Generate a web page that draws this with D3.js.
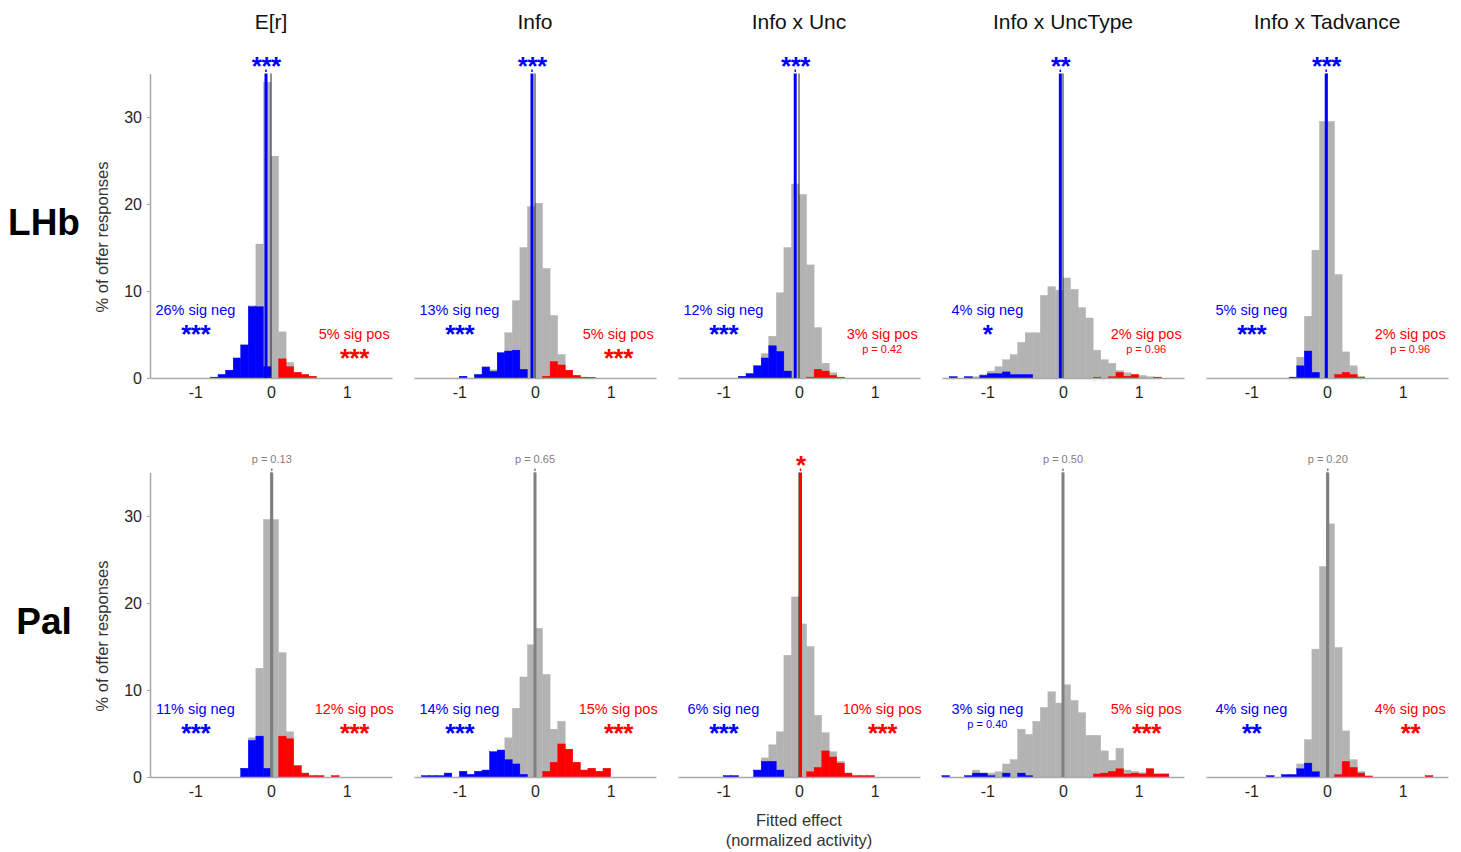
<!DOCTYPE html>
<html><head><meta charset="utf-8">
<script src="https://cdn.jsdelivr.net/npm/d3@7"></script>
<style>body{margin:0;background:#fff;} svg{display:block;font-family:"Liberation Sans",Arial,sans-serif;}</style>
</head><body><svg id="chart" width="1461" height="852"></svg>
<script>
// ---------- data ----------
const binLefts = [-1.6,-1.5,-1.4,-1.3,-1.2,-1.1,-1.0,-0.9, -0.8,-0.7,-0.6,-0.5,-0.4,-0.3,-0.2,-0.1,
                  0.0,0.1,0.2,0.3,0.4,0.5,0.6,0.7, 0.8,0.9,1.0,1.1,1.2,1.3,1.4,1.5];
const binWidth = 0.1;
const columnTitles = ["E[r]", "Info", "Info x Unc", "Info x UncType", "Info x Tadvance"];
const rowLabels = ["LHb", "Pal"];
const xTicks = [-1, 0, 1];
const yTicks = [0, 10, 20, 30];

// LHb
const lhbErAll  = [0,0,0,0,0,0,0,0, 0.1,0.4,0.9,2.3,3.8,8.3,15.4,34.0, 25.5,5.3,1.8,0.65,0.4,0.2,0,0, 0,0,0,0,0,0,0,0];
const lhbErNeg  = [0,0,0,0,0,0,0,0, 0.1,0.4,0.9,2.3,3.8,8.2,8.2,1.3, 0,0,0,0,0,0,0,0, 0,0,0,0,0,0,0,0];
const lhbErPos  = [0,0,0,0,0,0,0,0, 0,0,0,0,0,0,0,0, 0,2.2,1.3,0.65,0.4,0.2,0,0, 0,0,0,0,0,0,0,0];

const lhbInfoAll = [0,0,0,0,0,0,0.2,0, 0.4,1.3,0.95,2.9,5.2,8.9,15.0,19.7, 20.1,12.6,7.2,2.7,0.9,0.3,0.1,0.08, 0,0,0,0,0,0,0,0];
const lhbInfoNeg = [0,0,0,0,0,0,0.2,0, 0.4,1.26,0.76,2.9,3.1,3.2,1.0,0, 0,0,0,0,0,0,0,0, 0,0,0,0,0,0,0,0];
const lhbInfoPos = [0,0,0,0,0,0,0,0, 0,0,0,0,0,0,0,0, 0,0.2,1.9,1.5,0.9,0.3,0.1,0.08, 0,0,0,0,0,0,0,0];

const lhbUncAll = [0,0,0,0,0,0,0,0, 0.2,0.5,1.4,2.8,4.8,9.8,15.0,22.3, 21.1,13.0,5.8,1.7,0.6,0.1,0,0, 0,0,0,0,0,0,0,0];
const lhbUncNeg = [0,0,0,0,0,0,0,0, 0.2,0.5,1.4,2.3,3.7,3.05,0.8,0, 0,0,0,0,0,0,0,0, 0,0,0,0,0,0,0,0];
const lhbUncPos = [0,0,0,0,0,0,0,0, 0,0,0,0,0,0,0,0, 0,0.1,1.0,0.8,0.3,0.1,0,0, 0,0,0,0,0,0,0,0];

const lhbUncTypeAll = [0,0.15,0,0.15,0.15,0.4,0.8,1.3, 2.1,2.7,4.1,5.2,5.2,9.5,10.5,10.1, 11.5,10.2,8.1,6.9,3.2,2.1,1.7,0.85, 0.6,0.4,0.3,0.15,0.1,0,0,0];
const lhbUncTypeNeg = [0,0.15,0,0.15,0,0.3,0.5,0.5, 0.7,0.4,0.4,0.4,0,0,0,0, 0,0,0,0,0,0,0,0, 0,0,0,0,0,0,0,0];
const lhbUncTypePos = [0,0,0,0,0,0,0,0, 0,0,0,0,0,0,0,0, 0,0,0,0,0.1,0,0.15,0.65, 0.2,0.4,0,0,0.1,0,0,0];

const lhbTadvAll = [0,0,0,0,0,0,0,0, 0,0,0,0.1,2.4,7.1,14.7,29.5, 29.5,11.9,3.0,1.4,0.2,0,0,0, 0,0,0,0,0,0,0,0];
const lhbTadvNeg = [0,0,0,0,0,0,0,0, 0,0,0,0.1,1.4,3.1,0.65,0, 0,0,0,0,0,0,0,0, 0,0,0,0,0,0,0,0];
const lhbTadvPos = [0,0,0,0,0,0,0,0, 0,0,0,0,0,0,0,0, 0,0.4,0.65,0.4,0.08,0,0,0, 0,0,0,0,0,0,0,0];

// Pal
const palErAll = [0,0,0,0,0,0,0,0, 0,0,0,0,1.0,4.5,12.5,29.6, 29.6,14.3,5.2,1.3,0.45,0.15,0.15,0, 0.15,0,0,0,0,0,0,0];
const palErNeg = [0,0,0,0,0,0,0,0, 0,0,0,0,1.0,4.2,4.7,1.0, 0,0,0,0,0,0,0,0, 0,0,0,0,0,0,0,0];
const palErPos = [0,0,0,0,0,0,0,0, 0,0,0,0,0,0,0,0, 0,4.7,4.4,1.3,0.45,0.15,0.15,0, 0.15,0,0,0,0,0,0,0];

const palInfoAll = [0,0.15,0.15,0.15,0.45,0,0.65,0.3, 0.65,0.8,2.9,3.1,4.5,7.9,11.5,15.2, 17.1,11.8,5.5,6.4,3.2,1.7,0.8,1.0, 0.65,1.0,0,0,0,0,0,0];
const palInfoNeg = [0,0.15,0.15,0.15,0.45,0,0.65,0.3, 0.65,0.8,2.9,3.1,2.0,1.5,0.3,0, 0,0,0,0,0,0,0,0, 0,0,0,0,0,0,0,0];
const palInfoPos = [0,0,0,0,0,0,0,0, 0,0,0,0,0,0,0,0, 0,0.65,1.7,3.8,3.2,1.7,0.8,1.0, 0.65,1.0,0,0,0,0,0,0];

const palUncAll = [0,0,0,0,0,0,0.15,0.15, 0,0,0.8,2.2,3.7,5.2,14.0,20.7, 17.6,15.0,7.1,5.1,2.9,1.8,0.45,0.15, 0.15,0.15,0,0,0,0,0,0];
const palUncNeg = [0,0,0,0,0,0,0.15,0.15, 0,0,0.8,1.8,1.8,0.8,0,0, 0,0,0,0,0,0,0,0, 0,0,0,0,0,0,0,0];
const palUncPos = [0,0,0,0,0,0,0,0, 0,0,0,0,0,0,0,0, 0,0.6,1.1,3.0,2.3,1.6,0.45,0.15, 0.15,0.15,0,0,0,0,0,0];

const palUncTypeAll = [0.15,0,0,0.15,0.8,0.45,0.45,0.6, 1.5,2.0,5.5,4.9,6.4,8.0,9.8,8.5, 10.6,8.8,7.4,4.8,4.8,3.0,1.9,3.3, 0.8,0.65,0.5,0.95,0.35,0.35,0,0];
const palUncTypeNeg = [0.15,0,0,0.15,0.45,0.45,0.15,0, 0.45,0,0.45,0.15,0,0,0,0, 0,0,0,0,0,0,0,0, 0,0,0,0,0,0,0,0];
const palUncTypePos = [0,0,0,0,0,0,0,0, 0,0,0,0,0,0,0,0, 0,0,0,0,0.35,0.45,0.65,0.95, 0.35,0.45,0.35,0.95,0.35,0.35,0,0];

const palTadvAll = [0,0,0,0,0,0,0,0, 0.15,0,0.27,0.27,1.5,4.3,14.7,24.2, 29.1,14.9,5.3,2.0,0.65,0.15,0,0, 0,0,0,0,0,0.15,0,0];
const palTadvNeg = [0,0,0,0,0,0,0,0, 0.15,0,0.27,0.27,0.95,1.6,0.6,0, 0,0,0,0,0,0,0,0, 0,0,0,0,0,0,0,0];
const palTadvPos = [0,0,0,0,0,0,0,0, 0,0,0,0,0,0,0,0, 0,0.27,1.8,1.1,0.45,0.1,0,0, 0,0,0,0,0,0.15,0,0];

// per-panel annotations (row-major: LHb columns, then Pal columns)
const panelMedians   = [-0.066, -0.04, -0.05, -0.035, -0.01, 0.01, 0.0, 0.02, 0.0, 0.01];
const medianSig      = ["neg","neg","neg","neg","neg","ns","ns","pos","ns","ns"];
const medianStats    = ["***","***","***","**","***","p = 0.13","p = 0.65","*","p = 0.50","p = 0.20"];
const negLabels      = ["26% sig neg","13% sig neg","12% sig neg","4% sig neg","5% sig neg","11% sig neg","14% sig neg","6% sig neg","3% sig neg","4% sig neg"];
const negStats       = ["***","***","***","*","***","***","***","***","p = 0.40","**"];
const posLabels      = ["5% sig pos","5% sig pos","3% sig pos","2% sig pos","2% sig pos","12% sig pos","15% sig pos","10% sig pos","5% sig pos","4% sig pos"];
const posStats       = ["***","***","p = 0.42","p = 0.96","p = 0.96","***","***","***","***","**"];

const allSeries = [lhbErAll, lhbInfoAll, lhbUncAll, lhbUncTypeAll, lhbTadvAll, palErAll, palInfoAll, palUncAll, palUncTypeAll, palTadvAll];
const negSeries = [lhbErNeg, lhbInfoNeg, lhbUncNeg, lhbUncTypeNeg, lhbTadvNeg, palErNeg, palInfoNeg, palUncNeg, palUncTypeNeg, palTadvNeg];
const posSeries = [lhbErPos, lhbInfoPos, lhbUncPos, lhbUncTypePos, lhbTadvPos, palErPos, palInfoPos, palUncPos, palUncTypePos, palTadvPos];

// ---------- drawing ----------
const COLORS = {gray: "#b3b3b3", neg: "#0000ff", pos: "#ff0000", ns: "#808080"};
const svg = d3.select("#chart");
const panelW = 242, panelH = 304.5;
const colLeft = c => 150 + c * 264;
const rowBase = [378, 777];
const xDomain = [-1.6, 1.6];
const yDomain = [0, 35];

columnTitles.forEach((t, c) => {
  svg.append("text").attr("x", colLeft(c) + panelW / 2).attr("y", 29)
    .attr("text-anchor", "middle").attr("font-size", 21).attr("fill", "#111").text(t);
});
rowLabels.forEach((t, r) => {
  svg.append("text").attr("x", 44).attr("y", rowBase[r] - 143)
    .attr("text-anchor", "middle").attr("font-size", 37).attr("font-weight", "bold")
    .attr("fill", "#000").text(t);
  svg.append("text")
    .attr("transform", `translate(108,${rowBase[r] - 141}) rotate(-90)`)
    .attr("text-anchor", "middle").attr("font-size", 16.5).attr("fill", "#333")
    .text("% of offer responses");
});
svg.append("text").attr("x", 799).attr("y", 826).attr("text-anchor", "middle")
  .attr("font-size", 16.5).attr("fill", "#333").text("Fitted effect");
svg.append("text").attr("x", 799).attr("y", 846).attr("text-anchor", "middle")
  .attr("font-size", 16.5).attr("fill", "#333").text("(normalized activity)");

function statText(g, x, yCenter, txt, color) {
  if (txt.startsWith("p")) {
    g.append("text").attr("x", x).attr("y", yCenter + 4)
      .attr("text-anchor", "middle").attr("font-size", 11).attr("fill", color).text(txt);
  } else {
    const fs = 26;
    g.append("text").attr("x", x + 0.25).attr("y", yCenter + 0.6 * fs)
      .attr("text-anchor", "middle").attr("font-size", fs).attr("font-weight", "bold")
      .attr("letter-spacing", "-0.5px").attr("fill", color).text(txt);
  }
}

for (let r = 0; r < 2; r++) {
  for (let c = 0; c < 5; c++) {
    const i = r * 5 + c;
    const left = colLeft(c), base = rowBase[r];
    const x = d3.scaleLinear().domain(xDomain).range([left, left + panelW]);
    const y = d3.scaleLinear().domain(yDomain).range([base, base - panelH]);
    const g = svg.append("g");

    const bars = (vals, color) => {
      g.append("g").selectAll("rect")
        .data(binLefts.map((b, k) => ({b, v: vals[k]})).filter(d => d.v > 0))
        .join("rect")
        .attr("x", d => x(d.b))
        .attr("width", d => x(d.b + binWidth) - x(d.b))
        .attr("y", d => y(d.v))
        .attr("height", d => y(0) - y(d.v))
        .attr("fill", color).attr("stroke", color).attr("stroke-width", 0.4);
    };
    bars(allSeries[i], COLORS.gray);
    bars(negSeries[i], COLORS.neg);
    bars(posSeries[i], COLORS.pos);

    const xa = g.append("g").attr("transform", `translate(0,${base})`)
      .call(d3.axisBottom(x).tickValues(xTicks).tickSize(0).tickSizeOuter(0).tickPadding(8.5).tickFormat(d => String(d)));
    xa.select(".domain").attr("stroke", "#a8a8a8").attr("stroke-width", 1.5);
    xa.selectAll("text").attr("font-size", 16).attr("fill", "#262626").attr("font-family", null);

    if (c === 0) {
      const ya = g.append("g").attr("transform", `translate(${left},0)`)
        .call(d3.axisLeft(y).tickValues(yTicks).tickSize(3).tickSizeOuter(0).tickPadding(5));
      ya.select(".domain").attr("stroke", "#a8a8a8").attr("stroke-width", 1.5);
      ya.selectAll(".tick line").attr("stroke", "#a8a8a8");
      ya.selectAll("text").attr("font-size", 16).attr("fill", "#262626").attr("font-family", null);
    }

    g.append("line").attr("x1", x(0)).attr("x2", x(0)).attr("y1", y(0)).attr("y2", y(35))
      .attr("stroke", "#222").attr("stroke-width", 1);
    const mc = COLORS[medianSig[i]];
    const mx = x(panelMedians[i]);
    g.append("line").attr("x1", mx).attr("x2", mx).attr("y1", y(0)).attr("y2", y(35))
      .attr("stroke", mc).attr("stroke-width", 3);
    g.append("line").attr("x1", mx).attr("x2", mx).attr("y1", y(35) - 4).attr("y2", y(35) - 1.5)
      .attr("stroke", mc).attr("stroke-width", 1.5);
    statText(g, mx, y(35) - 14, medianStats[i], mc);

    const negY = 7.8;
    const posY = r === 0 ? 5.05 : 7.8;
    g.append("text").attr("x", x(-1.0)).attr("y", y(negY) + 5).attr("text-anchor", "middle")
      .attr("font-size", 14.5).attr("fill", COLORS.neg).text(negLabels[i]);
    statText(g, x(-1.0), y(negY) + (negStats[i].startsWith("p") ? 15 : 17), negStats[i], COLORS.neg);
    g.append("text").attr("x", x(1.1)).attr("y", y(posY) + 5).attr("text-anchor", "middle")
      .attr("font-size", 14.5).attr("fill", COLORS.pos).text(posLabels[i]);
    statText(g, x(1.1), y(posY) + (posStats[i].startsWith("p") ? 15 : 17.5), posStats[i], COLORS.pos);
  }
}
</script>
</body></html>
